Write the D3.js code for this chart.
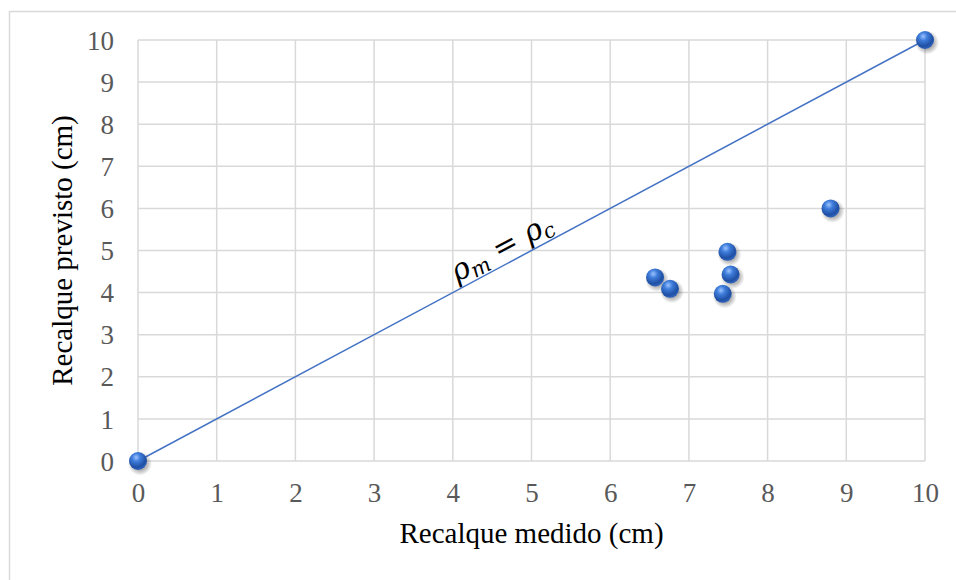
<!DOCTYPE html>
<html>
<head>
<meta charset="utf-8">
<script src="https://cdn.jsdelivr.net/npm/d3@7"></script>
<style>
body { margin: 0; background: #fff; }
</style>
</head>
<body>
<div id="chart"></div>
<script>
// data
const medido = [6.57, 6.76, 7.43, 7.49, 7.53, 8.80];
const previsto = [4.36, 4.09, 3.97, 4.97, 4.43, 6.00];
const lineX = [0, 10];
const lineY = [0, 10];
const ticks = [0, 1, 2, 3, 4, 5, 6, 7, 8, 9, 10];

const width = 956, height = 580;
const margin = {top: 40, right: 31, bottom: 119, left: 138};
const tnr = "'Liberation Serif'";

const svg = d3.select("#chart").append("svg").attr("width", width).attr("height", height)
    .style("font-family", tnr);

// outer border (only top/left visible)
svg.append("rect").attr("x", 9.5).attr("y", 11.5).attr("width", 980).attr("height", 600)
    .attr("fill", "none").attr("stroke", "#d9d9d9").attr("stroke-width", 1.5);

const x = d3.scaleLinear().domain([0, 10]).range([margin.left, width - margin.right]);
const y = d3.scaleLinear().domain([0, 10]).range([height - margin.bottom, margin.top]);

// gridlines
svg.append("g").selectAll("line").data(ticks).enter().append("line")
    .attr("x1", d => x(d)).attr("x2", d => x(d)).attr("y1", y(0)).attr("y2", y(10))
    .attr("stroke", "#d9d9d9").attr("stroke-width", 1.5);
svg.append("g").selectAll("line").data(ticks).enter().append("line")
    .attr("x1", x(0)).attr("x2", x(10)).attr("y1", d => y(d)).attr("y2", d => y(d))
    .attr("stroke", "#d9d9d9").attr("stroke-width", 1.5);

// axes (labels drawn by hand-free d3 axis, then restyled)
const xAxis = svg.append("g").attr("transform", `translate(0, ${y(0)})`)
    .call(d3.axisBottom(x).tickValues(ticks).tickSize(0).tickPadding(24));
const yAxis = svg.append("g").attr("transform", `translate(${x(0)}, 0)`)
    .call(d3.axisLeft(y).tickValues(ticks).tickSize(0).tickPadding(24));
[xAxis, yAxis].forEach(a => {
    a.select(".domain").remove();
    a.attr("font-family", null).attr("font-size", null);
    a.selectAll("text").style("font-family", tnr).style("font-size", "27px").attr("fill", "#595959");
});
xAxis.selectAll("text").attr("dy", "0.62em");
yAxis.selectAll("text").attr("dy", "0.34em");

// sphere gradient
const defs = svg.append("defs");
const grad = defs.append("radialGradient").attr("id", "ball").attr("cx", "40%").attr("cy", "30%").attr("r", "65%");
grad.append("stop").attr("offset", "0%").attr("stop-color", "#9cc3ff");
grad.append("stop").attr("offset", "35%").attr("stop-color", "#3f7ddb");
grad.append("stop").attr("offset", "85%").attr("stop-color", "#1f4fa3");
grad.append("stop").attr("offset", "100%").attr("stop-color", "#2c5fb8");
const sh = defs.append("radialGradient").attr("id", "shade");
sh.append("stop").attr("offset", "55%").attr("stop-color", "#000").attr("stop-opacity", 0.3);
sh.append("stop").attr("offset", "100%").attr("stop-color", "#000").attr("stop-opacity", 0);

// 1:1 line
const lineData = lineX.map((d, i) => [d, lineY[i]]);
svg.append("path").datum(lineData)
    .attr("d", d3.line().x(d => x(d[0])).y(d => y(d[1])))
    .attr("fill", "none").attr("stroke", "#4472c4").attr("stroke-width", 1.5);

// label along line
const ang = Math.atan2(y(0) - y(10), x(10) - x(0)) * 180 / Math.PI;
const lbl = svg.append("text").attr("transform", `translate(${x(4.68)}, ${y(4.68) - 8}) rotate(${-ang})`)
    .attr("text-anchor", "middle").style("font-family", "'DejaVu Serif'").style("font-style", "italic")
    .style("font-size", "30px").attr("fill", "#000");
lbl.append("tspan").text("ρ");
lbl.append("tspan").style("font-size", "21px").attr("dy", 5).text("m");
lbl.append("tspan").attr("dy", -5).text(" = ρ");
lbl.append("tspan").style("font-size", "21px").attr("dy", 5).text("c");

// points with soft shadow
const pts = lineData.concat(medido.map((d, i) => [d, previsto[i]]));
svg.append("g").selectAll("circle").data(pts).enter().append("circle")
    .attr("cx", d => x(d[0]) + 2).attr("cy", d => y(d[1]) + 2.5).attr("r", 12)
    .attr("fill", "url(#shade)");
svg.append("g").selectAll("circle").data(pts).enter().append("circle")
    .attr("cx", d => x(d[0])).attr("cy", d => y(d[1])).attr("r", 9)
    .attr("fill", "url(#ball)");

// axis titles
svg.append("text").attr("x", (x(0) + x(10)) / 2).attr("y", 543).attr("text-anchor", "middle")
    .style("font-family", tnr).style("font-size", "29px").attr("fill", "#000")
    .text("Recalque medido (cm)");
svg.append("text").attr("transform", `translate(72, ${(y(0) + y(10)) / 2}) rotate(-90)`).attr("text-anchor", "middle")
    .style("font-family", tnr).style("font-size", "29px").attr("fill", "#000")
    .text("Recalque previsto (cm)");
</script>
</body>
</html>
